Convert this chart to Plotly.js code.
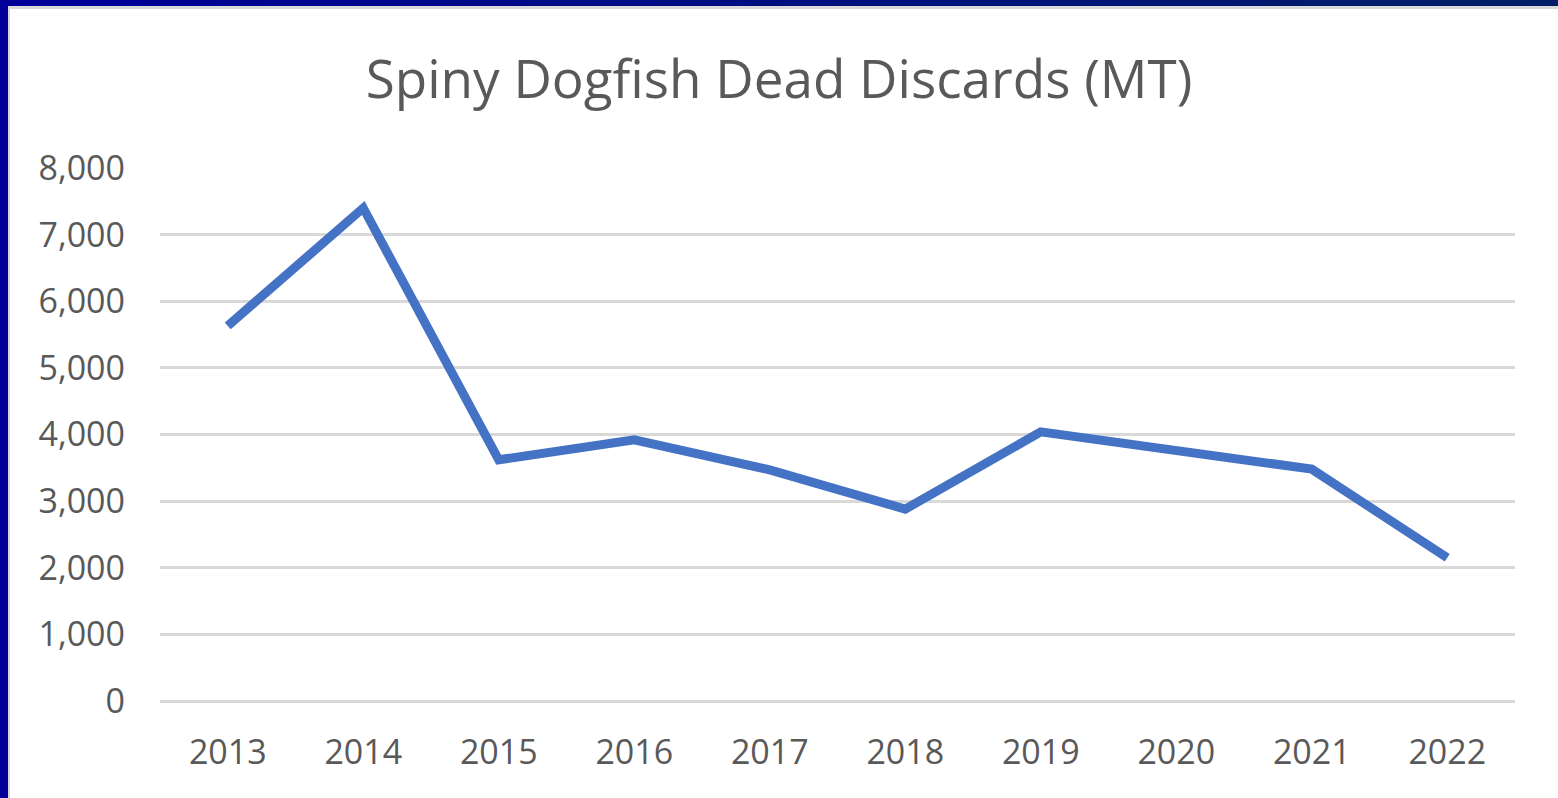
<!DOCTYPE html>
<html><head><meta charset="utf-8">
<script src="https://cdn.plot.ly/plotly-3.0.1.min.js"></script>
<style>
html,body{margin:0;padding:0;background:#fff;width:1558px;height:798px;overflow:hidden;}
#frame{position:absolute;left:0;top:0;width:1558px;height:798px;box-sizing:border-box;border-left:8px solid #000099;border-top:6px solid #00108a;pointer-events:none;}
#topgrad{position:absolute;left:0;top:0;width:1558px;height:6px;background:linear-gradient(to right,#000099,#001f66);}
#inner{position:absolute;left:8px;top:6px;width:1550px;height:792px;box-sizing:border-box;border-left:2px solid #d9d9d9;border-top:3px solid #d9d9d9;}
#chart{position:absolute;left:0;top:0;width:1558px;height:798px;}
</style></head>
<body>
<div id="chart"></div>
<div id="frame"></div>
<div id="topgrad"></div>
<div id="inner"></div>
<script>
const years = ['2013','2014','2015','2016','2017','2018','2019','2020','2021','2022'];
const deadDiscards = [5630, 7400, 3620, 3920, 3470, 2880, 4040, 3770, 3480, 2150];
const yTicks = [0,1000,2000,3000,4000,5000,6000,7000,8000];
const yTickLabels = ['0','1,000','2,000','3,000','4,000','5,000','6,000','7,000','8,000'];

Plotly.newPlot('chart', [{
  x: years, y: deadDiscards, type: 'scatter', mode: 'lines',
  line: {color: '#4472C4', width: 9}
}], {
  width: 1558, height: 798,
  margin: {l: 160, r: 43, t: 168, b: 97},
  paper_bgcolor: '#fff', plot_bgcolor: '#fff',
  showlegend: false,
  font: {family: 'Open Sans, sans-serif', color: '#595959'},
  title: {text: 'Spiny Dogfish Dead Discards (MT)', x: 0.5, xanchor: 'center', y: 0.9, yanchor: 'middle',
          font: {size: 53, color: '#595959', family: 'Open Sans, sans-serif'}},
  xaxis: {type: 'category', range: [-0.5, 9.5], showgrid: false, showline: false, zeroline: false,
          ticks: '', tickfont: {size: 34, color: '#595959'}, ticklabelstandoff: 28},
  yaxis: {range: [0, 8000], tickvals: yTicks, ticktext: yTickLabels, showgrid: true,
          gridcolor: '#d9d9d9', gridwidth: 3, zeroline: true, zerolinecolor: '#d9d9d9', zerolinewidth: 3,
          showline: false, ticks: '', tickfont: {size: 34, color: '#595959'}, ticklabelstandoff: 34}
}, {displayModeBar: false, staticPlot: true});
</script>
</body></html>
